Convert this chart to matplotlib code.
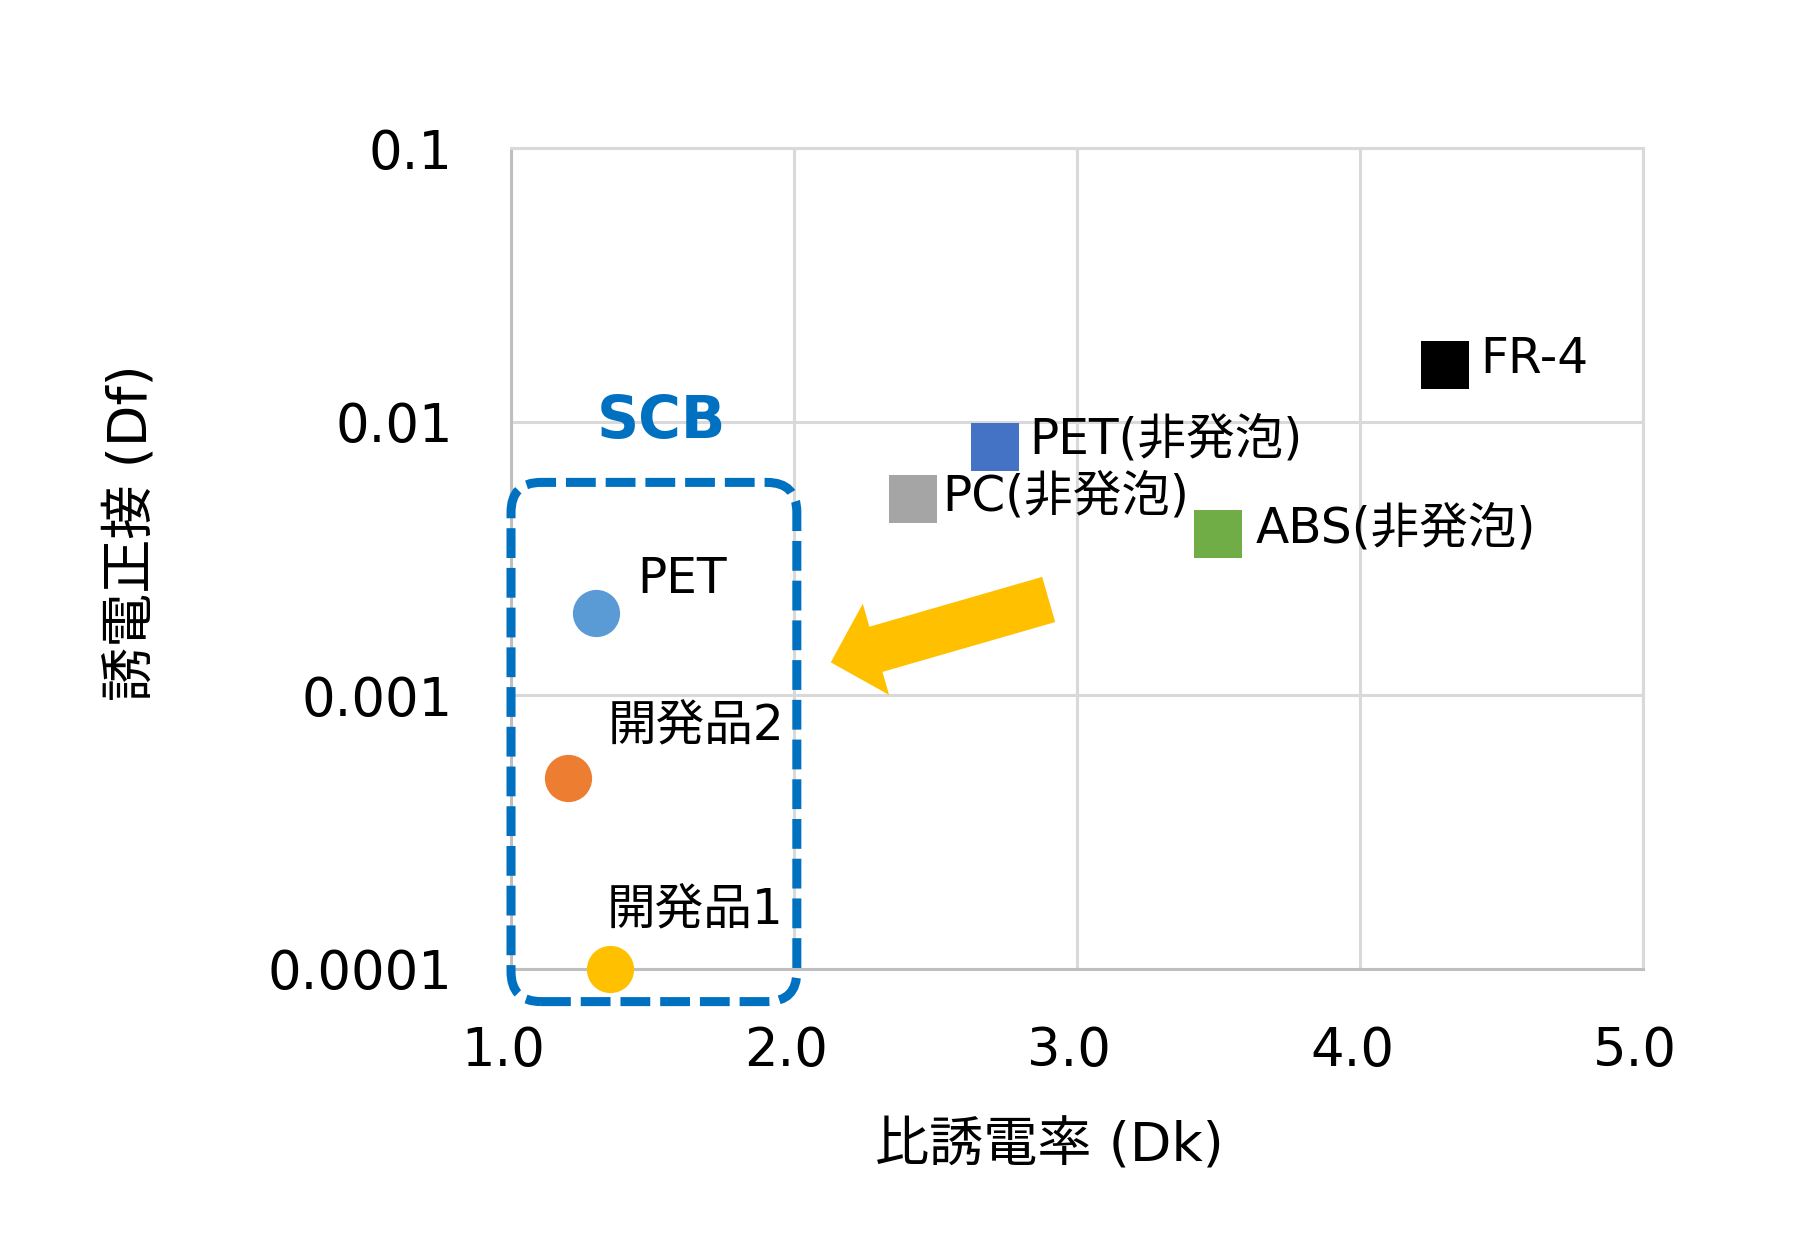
"""Dk vs Df scatter: SCB foam sheets vs. conventional substrate materials."""

import matplotlib
matplotlib.use("Agg")
import matplotlib.pyplot as plt
from matplotlib.patches import FancyBboxPatch, FancyArrow
from matplotlib.ticker import NullLocator
from matplotlib.transforms import IdentityTransform, ScaledTranslation

# Latin in a Verdana-like face, CJK falls through to Noto
plt.rcParams["font.family"] = ["DejaVu Sans", "Noto Sans CJK JP"]

# conventional (non-foamed) materials
mat_names = ["FR-4", "PET(非発泡)", "PC(非発泡)", "ABS(非発泡)"]
mat_dk = [4.30, 2.71, 2.42, 3.50]
mat_df = [0.0161, 0.0081, 0.0052, 0.0039]
mat_colors = ["#000000", "#4472C4", "#A5A5A5", "#70AD47"]
mat_offsets = [(35, 6), (34, 7), (29, 3), (37, 5)]

# SCB products
scb_names = ["PET", "開発品2", "開発品1"]
scb_dk = [1.30, 1.20, 1.35]
scb_df = [0.0020, 0.00050, 0.00010]
scb_colors = ["#5B9BD5", "#ED7D31", "#FFC000"]
scb_offsets = [(41, 34), (40, 51), (-3, 59)]

x_ticks = [1.0, 2.0, 3.0, 4.0, 5.0]
x_tick_labels = ["1.0", "2.0", "3.0", "4.0", "5.0"]
y_ticks = [0.0001, 0.001, 0.01, 0.1]
y_tick_labels = ["0.0001", "0.001", "0.01", "0.1"]

# annotation anchors (data coords)
box_lo = (1.0, 7.6e-5)
box_hi = (2.01, 0.0060)
arrow_tail = (2.90, 0.00224)
arrow_tip = (2.13, 0.00132)
scb_label_pos = (1.53, 0.0100)

fig = plt.figure(figsize=(18.16, 12.45), dpi=100)
ax = fig.add_axes([0.2814, 0.2217, 0.6233, 0.6594])
ax.set_yscale("log")
ax.set_xlim(1.0, 5.0)
ax.set_ylim(1e-4, 1e-1)
ax.set_xticks(x_ticks, labels=x_tick_labels)
ax.set_yticks(y_ticks, labels=y_tick_labels)
ax.yaxis.set_minor_locator(NullLocator())
ax.tick_params(axis="both", length=0, labelsize=38)
ax.tick_params(axis="x", pad=40)
ax.tick_params(axis="y", pad=42)
# x labels sit a little left of their gridlines in the original
shift = ScaledTranslation(-8 / 100, 0, fig.dpi_scale_trans)
for lab in ax.get_xticklabels():
    lab.set_transform(lab.get_transform() + shift)
ax.grid(True, color="#D9D9D9", linewidth=2.2)
ax.set_axisbelow(True)
for side in ["left", "bottom"]:
    ax.spines[side].set_color("#BFBFBF")
    ax.spines[side].set_linewidth(2.2)
for side in ["top", "right"]:
    ax.spines[side].set_color("#D9D9D9")
    ax.spines[side].set_linewidth(2.2)

ax.set_xlabel("比誘電率 (Dk)", fontsize=39)
ax.xaxis.label.set_va("center")
ax.xaxis.set_label_coords(0.476, -0.216)
ax.set_ylabel("誘電正接 (Df)", fontsize=39)
ax.yaxis.label.set_va("center")
ax.yaxis.set_label_coords(-0.335, 0.532)

for name, x, y, c, off in zip(mat_names, mat_dk, mat_df, mat_colors, mat_offsets):
    ax.plot(x, y, marker="s", ms=34, mew=0, color=c, ls="none", clip_on=False, zorder=4)
    ax.annotate(name, (x, y), xytext=off, textcoords="offset pixels",
                ha="left", va="center", fontsize=35)

for name, x, y, c, off in zip(scb_names, scb_dk, scb_df, scb_colors, scb_offsets):
    ax.plot(x, y, marker="o", ms=34, mew=0, color=c, ls="none", clip_on=False, zorder=4)
    ax.annotate(name, (x, y), xytext=off, textcoords="offset pixels",
                ha="left", va="center", fontsize=35)

ax.text(*scb_label_pos, "SCB", color="#0070C0", fontsize=42, fontweight="bold",
        ha="center", va="center")

# dashed rounded frame around the SCB group (drawn in pixel space so corners stay round)
bl = ax.transData.transform(box_lo)
tr = ax.transData.transform(box_hi)
frame = FancyBboxPatch(bl, tr[0] - bl[0], tr[1] - bl[1],
                       boxstyle="round,pad=0,rounding_size=30",
                       fill=False, edgecolor="#0070C0", linewidth=6.5,
                       linestyle=(0, (3.3, 1.1)), transform=IdentityTransform(),
                       clip_on=False, zorder=5)
ax.add_patch(frame)

# yellow block arrow
p0 = ax.transData.transform(arrow_tail)
p1 = ax.transData.transform(arrow_tip)
arrow = FancyArrow(p0[0], p0[1], p1[0] - p0[0], p1[1] - p0[1],
                   width=47, head_width=95, head_length=47,
                   length_includes_head=True, color="#FFC000", lw=0,
                   transform=IdentityTransform(), clip_on=False, zorder=5)
ax.add_patch(arrow)

fig.savefig("out.png", dpi=100, facecolor="white")
